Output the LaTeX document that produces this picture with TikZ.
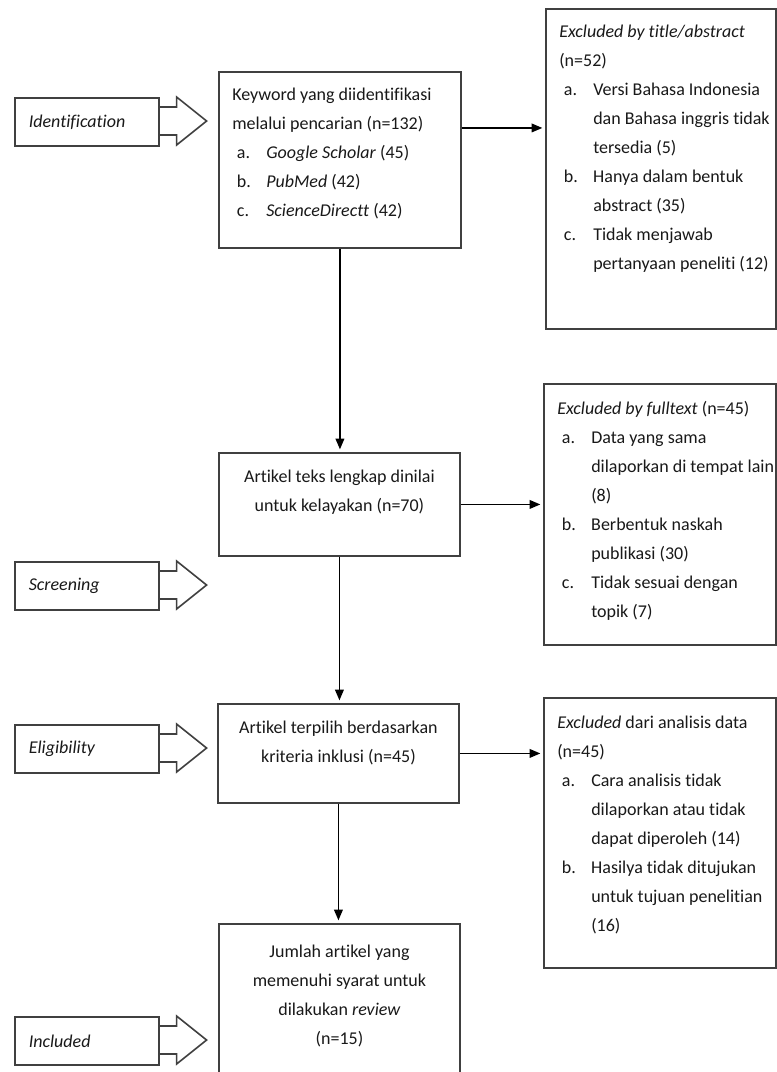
\documentclass[tikz,border=0pt]{standalone}
\usepackage{fontspec}
\setmainfont{Carlito}[Ligatures=NoCommon]
\usetikzlibrary{arrows.meta}
\newcommand{\itm}[1]{\hspace*{3.5pt}\makebox[22pt][l]{#1}}
\newcommand{\cnt}{\hspace*{25.5pt}}

\begin{document}
\begin{tikzpicture}[x=0.75pt, y=-0.75pt, >={Triangle[length=8pt,width=6.5pt]},
    every node/.style={font=\fontsize{13.5}{21.75}\selectfont, text=black!90},
    box/.style={draw=black!75, line width=1.4pt, anchor=north west, inner sep=0pt},
    txt/.style={inner sep=0pt, align=left, anchor=north west},
    ctxt/.style={inner sep=0pt, align=center, anchor=north},
    phase/.style={draw=black!75, line width=1.2pt, anchor=north west, minimum height=36pt,
      text width=87pt, inner xsep=10.5pt, align=left, font=\fontsize{13.5}{21.75}\selectfont\itshape},
    link/.style={->, line width=1.1pt, shorten >=2pt}]
    % page with its margins
    \fill[white] (0,0) rectangle (776,1072);
    \useasboundingbox (0,0) rectangle (776,1072);

    % flow boxes in the middle
    \node[box, minimum width=181.5pt, minimum height=132pt] (found) at (218,71) {};
    \node[box, minimum width=180.75pt, minimum height=77.25pt] (fulltext) at (218,452) {};
    \node[box, minimum width=180.75pt, minimum height=74.25pt] (chosen) at (217,703) {};
    \node[box, minimum width=180.75pt, minimum height=120pt] (final) at (218,923) {};

    % exclusion boxes on the right
    \node[box, minimum width=172.5pt, minimum height=240pt] (exc1) at (545,8) {};
    \node[box, minimum width=174pt, minimum height=195.75pt] (exc2) at (543,383) {};
    \node[box, minimum width=174pt, minimum height=202.5pt] (exc3) at (543,697) {};

    % stage labels on the left
    \node[phase] (ph1) at (14,97) {Identification};
    \node[phase] (ph2) at (14,561) {Screening};
    \node[phase] (ph3) at (14,724) {Eligibility};
    \node[phase] (ph4) at (14,1016) {Included};
    \foreach \p in {ph1,ph2,ph3,ph4}
      \draw[draw=black!75, line width=1.2pt] ([yshift=-7.5pt]\p.north east) -- ++(17,0) -- ++(0,-10)
        -- ++(30,24) -- ++(-30,24) -- ++(0,-10) -- ++(-17,0);

    % texts
    \node[txt] (foundtxt) at ([shift={(14,17)}]found.north west)
      {Keyword yang diidentifikasi\\ melalui pencarian (n=132)\\
       \itm{a.}\textit{Google Scholar} (45)\\ \itm{b.}\textit{PubMed} (42)\\ \itm{c.}\textit{ScienceDirectt} (42)};
    \node[ctxt] (fulltexttxt) at ([yshift=-13.5pt]fulltext.north)
      {Artikel teks lengkap dinilai\\ untuk kelayakan (n=70)};
    \node[ctxt] (chosentxt) at ([yshift=-13.5pt]chosen.north)
      {Artikel terpilih berdasarkan\\ kriteria inklusi (n=45)};
    \node[ctxt] (finaltxt) at ([yshift=-16.5pt]final.north)
      {Jumlah artikel yang\\ memenuhi syarat untuk\\ dilakukan \textit{review}\\ (n=15)};

    \node[txt] (exc1txt) at ([shift={(14,17)}]exc1.north west)
      {\textit{Excluded by title/abstract}\\ (n=52)\\
       \itm{a.}Versi Bahasa Indonesia\\ \cnt dan Bahasa inggris tidak\\ \cnt tersedia (5)\\
       \itm{b.}Hanya dalam bentuk\\ \cnt abstract (35)\\
       \itm{c.}Tidak menjawab\\ \cnt pertanyaan peneliti (12)};
    \node[txt] (exc2txt) at ([shift={(14,18)}]exc2.north west)
      {\textit{Excluded by fulltext} (n=45)\\
       \itm{a.}Data yang sama\\ \cnt dilaporkan di tempat lain\\ \cnt (8)\\
       \itm{b.}Berbentuk naskah\\ \cnt publikasi (30)\\
       \itm{c.}Tidak sesuai dengan\\ \cnt topik (7)};
    \node[txt] (exc3txt) at ([shift={(14,19)}]exc3.north west)
      {\textit{Excluded} dari analisis data\\ (n=45)\\
       \itm{a.}Cara analisis tidak\\ \cnt dilaporkan atau tidak\\ \cnt dapat diperoleh (14)\\
       \itm{b.}Hasilya tidak ditujukan\\ \cnt untuk tujuan penelitian\\ \cnt (16)};

    % connectors
    \draw[link] (found.south) -- (found.south |- fulltext.north);
    \draw[link] (fulltext.south) -- (fulltext.south |- chosen.north);
    \draw[link] (chosen.south) -- (chosen.south |- final.north);
    \draw[link] ([yshift=24pt]found.east) -- ([yshift=24pt]found.east -| exc1.west);
    \draw[link] (fulltext.east) -- (fulltext.east -| exc2.west);
    \draw[link] (chosen.east) -- (chosen.east -| exc3.west);
  \end{tikzpicture}
\end{document}
